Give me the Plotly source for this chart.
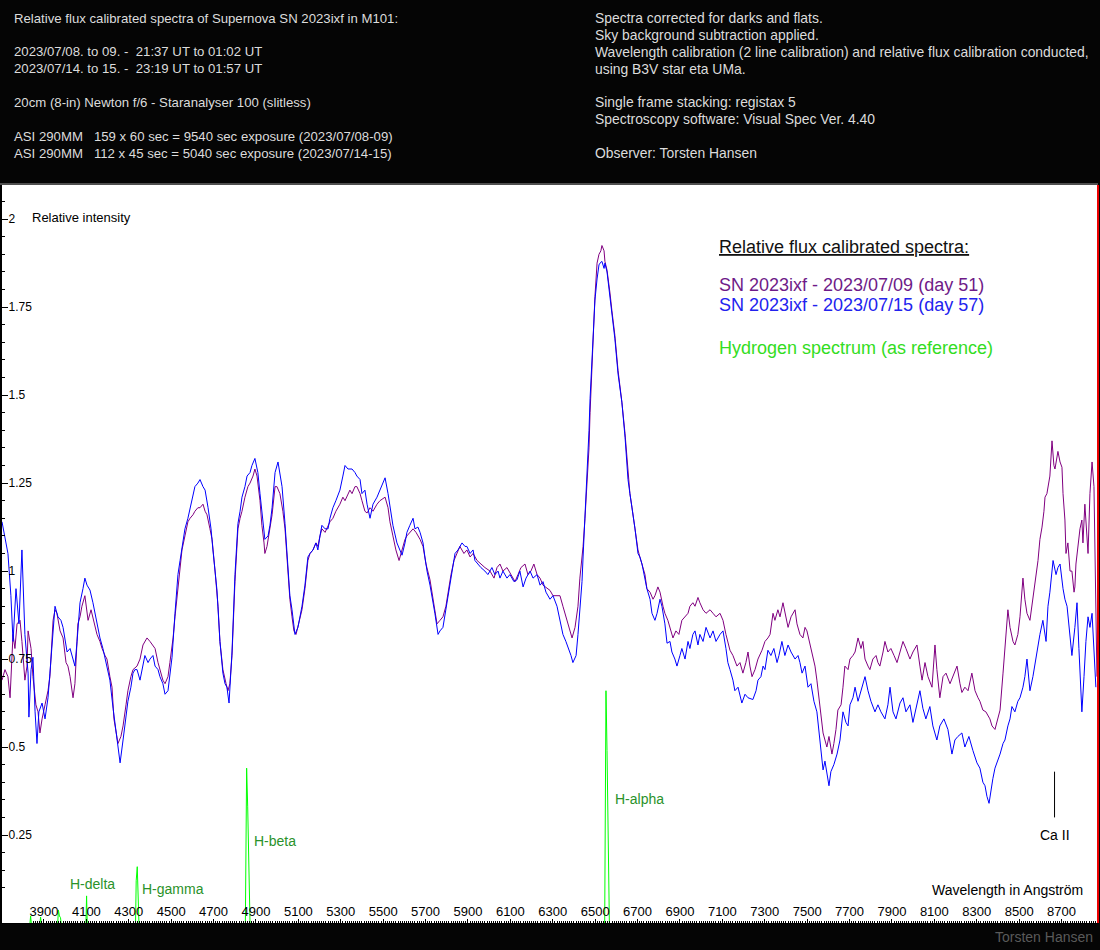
import plotly.graph_objects as go

# ---------------- data ----------------
# SN 2023ixf, 2023/07/09 (day 51): (wavelength in Angstrom, relative intensity)
day51 = [
    (3702,0.69),(3716,0.72),(3730,0.70),(3740,0.64),(3754,0.82),(3763,0.78),(3773,0.85),(3787,0.86),(3796,0.80),(3810,0.69),
    (3820,0.73),(3825,0.83),(3839,0.78),(3848,0.70),(3862,0.62),(3872,0.60),(3881,0.54),(3891,0.58),(3905,0.62),(3919,0.66),
    (3928,0.70),(3943,0.86),(3952,0.89),(3961,0.88),(3976,0.83),(3990,0.81),(4004,0.74),(4013,0.73),(4023,0.70),(4037,0.64),
    (4046,0.68),(4060,0.85),(4070,0.87),(4079,0.90),(4093,0.93),(4103,0.88),(4108,0.86),(4122,0.89),(4136,0.85),(4150,0.82),
    (4164,0.80),(4174,0.78),(4188,0.76),(4197,0.75),(4211,0.70),(4221,0.67),(4230,0.58),(4240,0.54),(4249,0.51),(4263,0.53),
    (4273,0.56),(4287,0.62),(4296,0.66),(4310,0.70),(4320,0.72),(4339,0.73),(4353,0.75),(4367,0.79),(4376,0.80),(4386,0.81),
    (4400,0.80),(4414,0.79),(4424,0.78),(4438,0.74),(4447,0.72),(4461,0.69),(4471,0.68),(4485,0.70),(4494,0.74),(4509,0.81),
    (4518,0.87),(4532,0.96),(4542,1.02),(4551,1.06),(4565,1.10),(4579,1.14),(4589,1.15),(4603,1.16),(4612,1.17),(4626,1.18),
    (4636,1.18),(4650,1.19),(4660,1.17),(4669,1.16),(4683,1.12),(4693,1.09),(4707,1.00),(4721,0.90),(4730,0.80),(4744,0.72),
    (4759,0.68),(4768,0.66),(4777,0.68),(4787,0.76),(4801,0.97),(4815,1.12),(4825,1.15),(4834,1.17),(4848,1.21),(4862,1.24),
    (4872,1.25),(4886,1.27),(4895,1.29),(4905,1.27),(4919,1.20),(4928,1.13),(4938,1.08),(4942,1.05),(4952,1.07),(4966,1.12),
    (4976,1.16),(4990,1.24),(4999,1.24),(5013,1.22),(5027,1.17),(5037,1.12),(5051,1.00),(5060,0.92),(5070,0.87),(5079,0.83),
    (5089,0.82),(5098,0.84),(5108,0.87),(5117,0.89),(5131,0.95),(5145,1.03),(5155,1.05),(5169,1.06),(5183,1.08),(5192,1.07),
    (5202,1.10),(5211,1.12),(5226,1.11),(5240,1.13),(5249,1.14),(5263,1.15),(5277,1.17),(5296,1.19),(5310,1.21),(5320,1.20),
    (5334,1.22),(5343,1.23),(5353,1.22),(5367,1.24),(5376,1.24),(5391,1.22),(5400,1.20),(5414,1.17),(5424,1.165),(5438,1.18),
    (5452,1.17),(5471,1.19),(5485,1.20),(5509,1.21),(5523,1.18),(5532,1.14),(5546,1.10),(5560,1.06),(5575,1.03),(5589,1.06),
    (5603,1.09),(5612,1.10),(5626,1.11),(5641,1.12),(5655,1.11),(5674,1.09),(5688,1.07),(5702,1.02),(5721,0.975),(5735,0.92),
    (5744,0.88),(5754,0.85),(5768,0.86),(5782,0.87),(5796,0.90),(5806,0.94),(5820,0.99),(5834,1.03),(5848,1.05),(5862,1.07),
    (5881,1.05),(5895,1.06),(5910,1.04),(5924,1.05),(5943,1.03),(5961,1.02),(5980,1.01),(6004,1.00),(6023,0.98),(6037,1.01),
    (6051,1.02),(6065,1.00),(6084,1.01),(6103,0.99),(6122,0.97),(6136,0.99),(6150,1.01),(6169,1.02),(6183,0.99),(6197,1.00),
    (6211,1.02),(6226,0.99),(6240,0.98),(6254,0.96),(6273,0.95),(6287,0.945),(6301,0.93),(6320,0.93),(6334,0.93),(6348,0.90),
    (6362,0.87),(6377,0.84),(6391,0.81),(6405,0.84),(6419,0.90),(6428,0.98),(6443,1.07),(6452,1.15),(6461,1.23),(6471,1.35),
    (6476,1.45),(6485,1.58),(6490,1.68),(6499,1.78),(6509,1.875),(6518,1.90),(6527,1.91),(6532,1.925),(6542,1.91),(6546,1.88),
    (6556,1.855),(6560,1.84),(6570,1.79),(6579,1.74),(6593,1.67),(6608,1.57),(6617,1.53),(6626,1.48),(6641,1.39),(6655,1.27),
    (6664,1.22),(6674,1.18),(6688,1.12),(6702,1.06),(6711,1.04),(6721,1.02),(6735,0.99),(6744,0.95),(6759,0.94),(6773,0.92),
    (6782,0.93),(6796,0.955),(6806,0.94),(6820,0.90),(6829,0.88),(6843,0.86),(6853,0.84),(6867,0.81),(6881,0.83),(6895,0.82),
    (6909,0.86),(6924,0.87),(6938,0.88),(6947,0.90),(6961,0.91),(6971,0.90),(6985,0.925),(6994,0.91),(7009,0.89),(7023,0.88),
    (7042,0.89),(7056,0.88),(7070,0.87),(7089,0.88),(7103,0.86),(7117,0.82),(7126,0.80),(7136,0.775),(7150,0.76),(7169,0.73),
    (7183,0.74),(7197,0.71),(7211,0.74),(7221,0.77),(7230,0.73),(7240,0.70),(7254,0.72),(7268,0.75),(7287,0.775),(7301,0.80),
    (7315,0.81),(7325,0.82),(7339,0.88),(7348,0.86),(7362,0.89),(7372,0.87),(7386,0.91),(7395,0.88),(7410,0.84),(7424,0.87),
    (7443,0.89),(7452,0.85),(7466,0.82),(7480,0.81),(7490,0.84),(7499,0.83),(7513,0.79),(7523,0.77),(7537,0.73),(7546,0.69),
    (7560,0.61),(7575,0.54),(7584,0.52),(7593,0.50),(7603,0.53),(7617,0.48),(7626,0.51),(7636,0.55),(7645,0.605),(7660,0.62),
    (7669,0.67),(7678,0.73),(7693,0.72),(7702,0.75),(7716,0.76),(7726,0.77),(7740,0.81),(7754,0.78),(7763,0.80),(7773,0.75),
    (7787,0.73),(7796,0.72),(7810,0.75),(7825,0.76),(7834,0.74),(7843,0.73),(7858,0.77),(7867,0.80),(7881,0.77),(7895,0.78),
    (7910,0.76),(7924,0.74),(7938,0.77),(7952,0.80),(7966,0.78),(7985,0.75),(7999,0.77),(8018,0.79),(8032,0.73),(8042,0.69),
    (8056,0.74),(8070,0.70),(8089,0.67),(8103,0.79),(8112,0.72),(8126,0.64),(8141,0.70),(8155,0.71),(8174,0.68),(8188,0.70),
    (8207,0.73),(8221,0.68),(8230,0.655),(8244,0.67),(8259,0.66),(8277,0.71),(8292,0.66),(8306,0.64),(8315,0.63),(8329,0.605),
    (8343,0.60),(8362,0.58),(8372,0.56),(8386,0.55),(8395,0.57),(8410,0.605),(8424,0.71),(8433,0.785),(8447,0.89),(8457,0.84),
    (8471,0.80),(8480,0.79),(8494,0.82),(8504,0.87),(8518,0.98),(8527,0.92),(8537,0.88),(8551,0.86),(8560,0.90),(8575,0.975),
    (8589,1.03),(8598,1.09),(8608,1.125),(8617,1.17),(8622,1.21),(8631,1.22),(8636,1.24),(8645,1.27),(8655,1.37),(8664,1.30),
    (8669,1.29),(8678,1.32),(8683,1.34),(8693,1.31),(8702,1.295),(8707,1.22),(8716,1.145),(8721,1.05),(8730,1.08),(8740,1.00),
    (8749,1.00),(8759,0.94),(8763,0.955),(8768,1.02),(8777,1.07),(8787,1.12),(8796,1.145),(8801,1.08),(8810,1.19),(8815,1.13),
    (8825,1.05),(8834,1.22),(8844,1.31),(8853,1.24),(8862,0.90),(8867,0.70),
]

# SN 2023ixf, 2023/07/15 (day 57)
day57 = [
    (3702,1.14),(3716,1.10),(3730,1.05),(3744,0.93),(3754,0.80),(3768,0.95),(3782,0.85),(3796,1.06),(3810,0.82),(3825,0.71),
    (3829,0.585),(3839,0.72),(3848,0.755),(3858,0.60),(3867,0.51),(3876,0.60),(3891,0.625),(3905,0.58),(3919,0.64),(3928,0.71),
    (3938,0.80),(3952,0.90),(3966,0.87),(3980,0.86),(3990,0.84),(3999,0.80),(4009,0.77),(4023,0.78),(4037,0.75),(4046,0.73),
    (4056,0.80),(4070,0.91),(4084,0.95),(4093,0.98),(4103,0.96),(4117,0.946),(4131,0.91),(4141,0.88),(4155,0.83),(4164,0.81),
    (4178,0.78),(4188,0.755),(4202,0.72),(4211,0.69),(4226,0.61),(4235,0.57),(4244,0.52),(4259,0.455),(4273,0.52),(4287,0.58),
    (4296,0.63),(4310,0.67),(4320,0.71),(4329,0.72),(4339,0.72),(4353,0.69),(4367,0.74),(4376,0.76),(4391,0.74),(4400,0.75),
    (4414,0.76),(4424,0.73),(4438,0.72),(4447,0.70),(4461,0.68),(4471,0.65),(4485,0.66),(4494,0.70),(4504,0.755),(4518,0.88),
    (4532,0.99),(4542,1.03),(4551,1.07),(4565,1.12),(4579,1.15),(4589,1.18),(4603,1.22),(4612,1.24),(4626,1.25),(4636,1.26),
    (4650,1.24),(4660,1.23),(4674,1.18),(4688,1.12),(4697,1.06),(4707,1.00),(4716,0.946),(4730,0.80),(4744,0.71),(4754,0.68),
    (4763,0.67),(4773,0.625),(4787,0.77),(4801,0.99),(4815,1.135),(4825,1.17),(4834,1.21),(4848,1.24),(4858,1.27),(4872,1.28),
    (4881,1.30),(4895,1.32),(4909,1.28),(4919,1.22),(4928,1.165),(4942,1.09),(4957,1.10),(4966,1.13),(4976,1.18),(4990,1.28),
    (5004,1.31),(5013,1.28),(5023,1.24),(5037,1.135),(5051,0.99),(5060,0.93),(5070,0.89),(5084,0.82),(5098,0.84),(5108,0.87),
    (5117,0.90),(5131,0.96),(5145,1.04),(5155,1.05),(5169,1.06),(5183,1.08),(5192,1.06),(5202,1.10),(5211,1.13),(5226,1.12),
    (5240,1.12),(5249,1.15),(5263,1.18),(5277,1.20),(5296,1.23),(5310,1.27),(5320,1.30),(5334,1.29),(5353,1.29),(5367,1.28),
    (5376,1.27),(5391,1.26),(5400,1.22),(5414,1.23),(5424,1.19),(5438,1.15),(5452,1.19),(5471,1.21),(5485,1.23),(5509,1.265),
    (5523,1.22),(5532,1.18),(5546,1.13),(5565,1.08),(5579,1.06),(5589,1.045),(5603,1.08),(5612,1.11),(5626,1.13),(5641,1.15),
    (5650,1.12),(5664,1.125),(5674,1.11),(5688,1.08),(5697,1.04),(5707,1.00),(5721,0.96),(5730,0.93),(5744,0.88),(5759,0.82),
    (5768,0.83),(5782,0.84),(5796,0.89),(5806,0.93),(5815,0.97),(5829,1.02),(5839,1.05),(5853,1.06),(5872,1.08),(5886,1.07),
    (5895,1.07),(5910,1.05),(5924,1.06),(5933,1.03),(5947,1.02),(5961,1.01),(5980,1.00),(5994,0.99),(6013,1.01),(6027,0.99),
    (6042,1.00),(6051,0.98),(6065,1.00),(6084,0.98),(6098,0.99),(6117,0.97),(6131,0.975),(6145,1.00),(6160,0.955),(6174,0.98),
    (6193,1.00),(6207,0.98),(6226,0.99),(6240,0.96),(6254,0.97),(6268,0.94),(6287,0.92),(6301,0.93),(6320,0.90),(6334,0.86),
    (6348,0.82),(6362,0.80),(6372,0.785),(6386,0.76),(6395,0.74),(6410,0.76),(6419,0.82),(6428,0.88),(6438,0.97),(6443,1.04),
    (6452,1.15),(6461,1.26),(6471,1.40),(6476,1.49),(6485,1.60),(6490,1.685),(6499,1.77),(6509,1.83),(6518,1.87),(6523,1.875),
    (6532,1.88),(6542,1.86),(6546,1.875),(6556,1.85),(6560,1.83),(6570,1.78),(6579,1.73),(6593,1.66),(6608,1.56),(6617,1.52),
    (6626,1.48),(6641,1.38),(6655,1.26),(6664,1.22),(6674,1.18),(6688,1.12),(6702,1.05),(6711,1.04),(6721,1.02),(6735,0.98),
    (6744,0.95),(6759,0.92),(6768,0.88),(6782,0.86),(6792,0.88),(6806,0.92),(6815,0.90),(6829,0.85),(6839,0.795),(6853,0.80),
    (6862,0.77),(6876,0.75),(6886,0.73),(6900,0.76),(6909,0.78),(6924,0.75),(6938,0.80),(6947,0.78),(6961,0.82),(6971,0.83),
    (6985,0.79),(6994,0.82),(7009,0.80),(7023,0.84),(7042,0.81),(7056,0.83),(7070,0.80),(7089,0.82),(7103,0.83),(7117,0.78),
    (7126,0.74),(7136,0.72),(7150,0.69),(7159,0.66),(7174,0.67),(7192,0.625),(7207,0.65),(7221,0.64),(7244,0.635),(7259,0.66),
    (7268,0.69),(7282,0.70),(7292,0.73),(7301,0.72),(7315,0.775),(7329,0.76),(7343,0.78),(7358,0.74),(7367,0.76),(7381,0.80),
    (7395,0.76),(7410,0.79),(7424,0.77),(7443,0.75),(7457,0.76),(7466,0.74),(7476,0.71),(7490,0.73),(7504,0.67),(7518,0.68),
    (7532,0.63),(7546,0.60),(7560,0.52),(7575,0.435),(7584,0.46),(7593,0.42),(7603,0.39),(7612,0.43),(7626,0.45),(7641,0.48),
    (7655,0.52),(7669,0.60),(7683,0.57),(7693,0.56),(7702,0.62),(7716,0.64),(7726,0.67),(7740,0.63),(7754,0.66),(7773,0.70),
    (7787,0.66),(7801,0.63),(7820,0.60),(7834,0.62),(7848,0.60),(7867,0.58),(7881,0.62),(7891,0.67),(7905,0.60),(7919,0.58),
    (7938,0.625),(7952,0.64),(7966,0.60),(7985,0.62),(7999,0.57),(8018,0.62),(8032,0.66),(8046,0.61),(8060,0.58),(8079,0.615),
    (8093,0.56),(8112,0.52),(8126,0.56),(8145,0.58),(8164,0.55),(8183,0.48),(8197,0.52),(8211,0.53),(8230,0.54),(8244,0.50),
    (8263,0.53),(8282,0.49),(8301,0.455),(8315,0.44),(8329,0.40),(8339,0.39),(8348,0.36),(8358,0.34),(8367,0.38),(8376,0.41),
    (8386,0.44),(8395,0.455),(8410,0.48),(8424,0.51),(8433,0.52),(8447,0.56),(8457,0.58),(8466,0.615),(8480,0.60),(8494,0.63),
    (8504,0.64),(8518,0.67),(8527,0.70),(8537,0.75),(8551,0.66),(8565,0.70),(8575,0.74),(8584,0.77),(8598,0.82),(8612,0.86),
    (8627,0.80),(8636,0.90),(8645,0.94),(8660,1.03),(8674,0.99),(8683,1.01),(8693,1.02),(8707,0.95),(8716,0.92),(8726,0.90),
    (8740,0.81),(8749,0.76),(8763,0.84),(8773,0.91),(8782,0.78),(8787,0.71),(8796,0.60),(8806,0.70),(8815,0.80),(8825,0.87),
    (8834,0.84),(8844,0.88),(8853,0.75),(8862,0.67),
]

# Hydrogen reference spectrum: one profile (wavelength, intensity) per Balmer line
hydrogen_lines = [
    [(3834,0),(3837,0.02),(3840,0)],
    [(3881,0),(3884,0.017),(3887,0)],
    [(3965,0),(3968,0.037),(3973,0.02),(3978,0.015),(3981,0)],
    [(4098,0),(4101,0.077),(4104,0)],
    [(4332,0),(4335,0.12),(4340,0.16),(4345,0.075),(4348,0)],
    [(4850,0),(4853,0.22),(4856,0.44),(4861,0.33),(4869,0.10),(4872,0)],
    [(6545,0),(6548,0.33),(6551,0.66),(6556,0.49),(6564,0.155),(6567,0)],
]

# line labels: (text, wavelength, intensity)
h_labels = [("H-delta", 4013, 0.11), ("H-gamma", 4355, 0.097), ("H-beta", 4880, 0.233), ("H-alpha", 6582, 0.352)]
ca2_wl = 8667
ca2_top, ca2_bottom = 0.43, 0.30

x_range = [3702, 8872]
y_range = [0, 2.097]
y_ticks = [0.25, 0.5, 0.75, 1.0, 1.25, 1.5, 1.75, 2.0]
y_ticktext = ["0.25", "0.5", "0.75", "1", "1.25", "1.5", "1.75", "2"]

header_left = [
    "Relative flux calibrated spectra of Supernova SN 2023ixf in M101:",
    "",
    "2023/07/08. to 09. -  21:37 UT to 01:02 UT",
    "2023/07/14. to 15. -  23:19 UT to 01:57 UT",
    "",
    "20cm (8-in) Newton f/6 - Staranalyser 100 (slitless)",
    "",
    "ASI 290MM   159 x 60 sec = 9540 sec exposure (2023/07/08-09)",
    "ASI 290MM   112 x 45 sec = 5040 sec exposure (2023/07/14-15)",
]
header_right = [
    "Spectra corrected for darks and flats.",
    "Sky background subtraction applied.",
    "Wavelength calibration (2 line calibration) and relative flux calibration conducted,",
    "using B3V star eta UMa.",
    "",
    "Single frame stacking: registax 5",
    "Spectroscopy software: Visual Spec Ver. 4.40",
    "",
    "Observer: Torsten Hansen",
]

# ---------------- figure ----------------
W, H = 1100, 950
L, R, T, B = 2, 2, 185, 27
FONT = "Arial, Liberation Sans, sans-serif"


def px(x):
    return (x - L) / (W - L - R)


def py(y):
    return (H - B - y) / (H - T - B)


wl51, fl51 = zip(*day51)
wl57, fl57 = zip(*day57)
h_wl, h_val = [], []
for prof in hydrogen_lines:
    for w, v in prof:
        h_wl.append(w)
        h_val.append(v)
    h_wl.append(None)
    h_val.append(None)

fig = go.Figure()
fig.add_trace(go.Scatter(x=h_wl, y=h_val, mode="lines", line=dict(color="#00ff00", width=1),
                         connectgaps=False, hoverinfo="skip"))
fig.add_trace(go.Scatter(x=wl51, y=fl51, mode="lines", line=dict(color="#800080", width=1)))
fig.add_trace(go.Scatter(x=wl57, y=fl57, mode="lines", line=dict(color="#0000ff", width=1)))

annotations = []
line_h = 16.9
for i, t in enumerate(header_left):
    if t:
        annotations.append(dict(x=px(12), y=py(18 + i * line_h), xref="paper", yref="paper", text=t,
                                showarrow=False, xanchor="left", yanchor="middle",
                                font=dict(family=FONT, size=13.2, color="#dcdcdc")))
for i, t in enumerate(header_right):
    if t:
        annotations.append(dict(x=px(593), y=py(18 + i * line_h), xref="paper", yref="paper", text=t,
                                showarrow=False, xanchor="left", yanchor="middle",
                                font=dict(family=FONT, size=13.9, color="#dcdcdc")))

# legend block
legend_lines = [
    ("<u>Relative flux calibrated spectra:</u>", 247, "#111111"),
    ("SN 2023ixf - 2023/07/09 (day 51)", 285, "#6e1a88"),
    ("SN 2023ixf - 2023/07/15 (day 57)", 305, "#2222ee"),
    ("Hydrogen spectrum (as reference)", 348, "#33dd22"),
]
for t, yy, c in legend_lines:
    annotations.append(dict(x=px(717), y=py(yy), xref="paper", yref="paper", text=t, showarrow=False,
                            xanchor="left", yanchor="middle", font=dict(family=FONT, size=18, color=c)))

for t, wl, v in h_labels:
    annotations.append(dict(x=wl, y=v, xref="x", yref="y", text=t, showarrow=False, xanchor="left",
                            yanchor="middle", font=dict(family=FONT, size=14, color="#2a922a")))

annotations.append(dict(x=ca2_wl, y=ca2_bottom - 0.05, xref="x", yref="y", text="Ca II", showarrow=False,
                        xanchor="center", yanchor="middle", font=dict(family=FONT, size=14, color="black")))
annotations.append(dict(x=px(30), y=py(218), xref="paper", yref="paper", text="Relative intensity", showarrow=False,
                        xanchor="left", yanchor="middle", font=dict(family=FONT, size=13, color="black")))
annotations.append(dict(x=px(1085), y=py(890), xref="paper", yref="paper", text="Wavelength in Angström",
                        showarrow=False, xanchor="right", yanchor="middle",
                        font=dict(family=FONT, size=14, color="black")))
annotations.append(dict(x=px(1095), y=py(937), xref="paper", yref="paper", text="Torsten Hansen",
                        showarrow=False, xanchor="right", yanchor="middle",
                        font=dict(family=FONT, size=14, color="#5a5a5a")))

shapes = [
    dict(type="line", xref="x", yref="y", x0=ca2_wl, x1=ca2_wl, y0=ca2_bottom, y1=ca2_top,
         line=dict(color="black", width=1)),
    dict(type="line", xref="paper", yref="paper", x0=1, x1=1, y0=0, y1=1, line=dict(color="#ee0000", width=2)),
    dict(type="line", xref="paper", yref="paper", x0=px(0), x1=1, y0=py(184), y1=py(184),
         line=dict(color="#999999", width=1)),
]

fig.update_layout(
    width=W, height=H,
    margin=dict(l=L, r=R, t=T, b=B, pad=0),
    paper_bgcolor="#050505", plot_bgcolor="white",
    showlegend=False,
    font=dict(family=FONT),
    annotations=annotations,
    shapes=shapes,
    xaxis=dict(range=x_range, showgrid=False, zeroline=False, showline=True, linecolor="black", linewidth=1,
               ticks="inside", ticklen=4, tickcolor="black", tickmode="linear", tick0=3900, dtick=200,
               ticklabelposition="inside", tickfont=dict(family=FONT, size=13, color="black"),
               minor=dict(ticks="inside", ticklen=2, dtick=10, tick0=3900, tickcolor="black", showgrid=False),
               layer="above traces", fixedrange=True),
    yaxis=dict(range=y_range, showgrid=False, zeroline=False, showline=True, linecolor="black", linewidth=2,
               ticks="inside", ticklen=6, tickcolor="black", tickmode="array", tickvals=y_ticks,
               ticktext=y_ticktext, ticklabelposition="inside",
               tickfont=dict(family=FONT, size=12, color="black"),
               minor=dict(ticks="inside", ticklen=3, dtick=0.05, tick0=0, tickcolor="black", showgrid=False),
               layer="above traces", fixedrange=True),
)

fig.write_html(
    "out.html",
    config={"displayModeBar": False},
    post_script="document.body.style.margin='0px';document.body.style.padding='0px';"
                "document.body.style.backgroundColor='#050505';document.body.style.overflow='hidden';",
)
